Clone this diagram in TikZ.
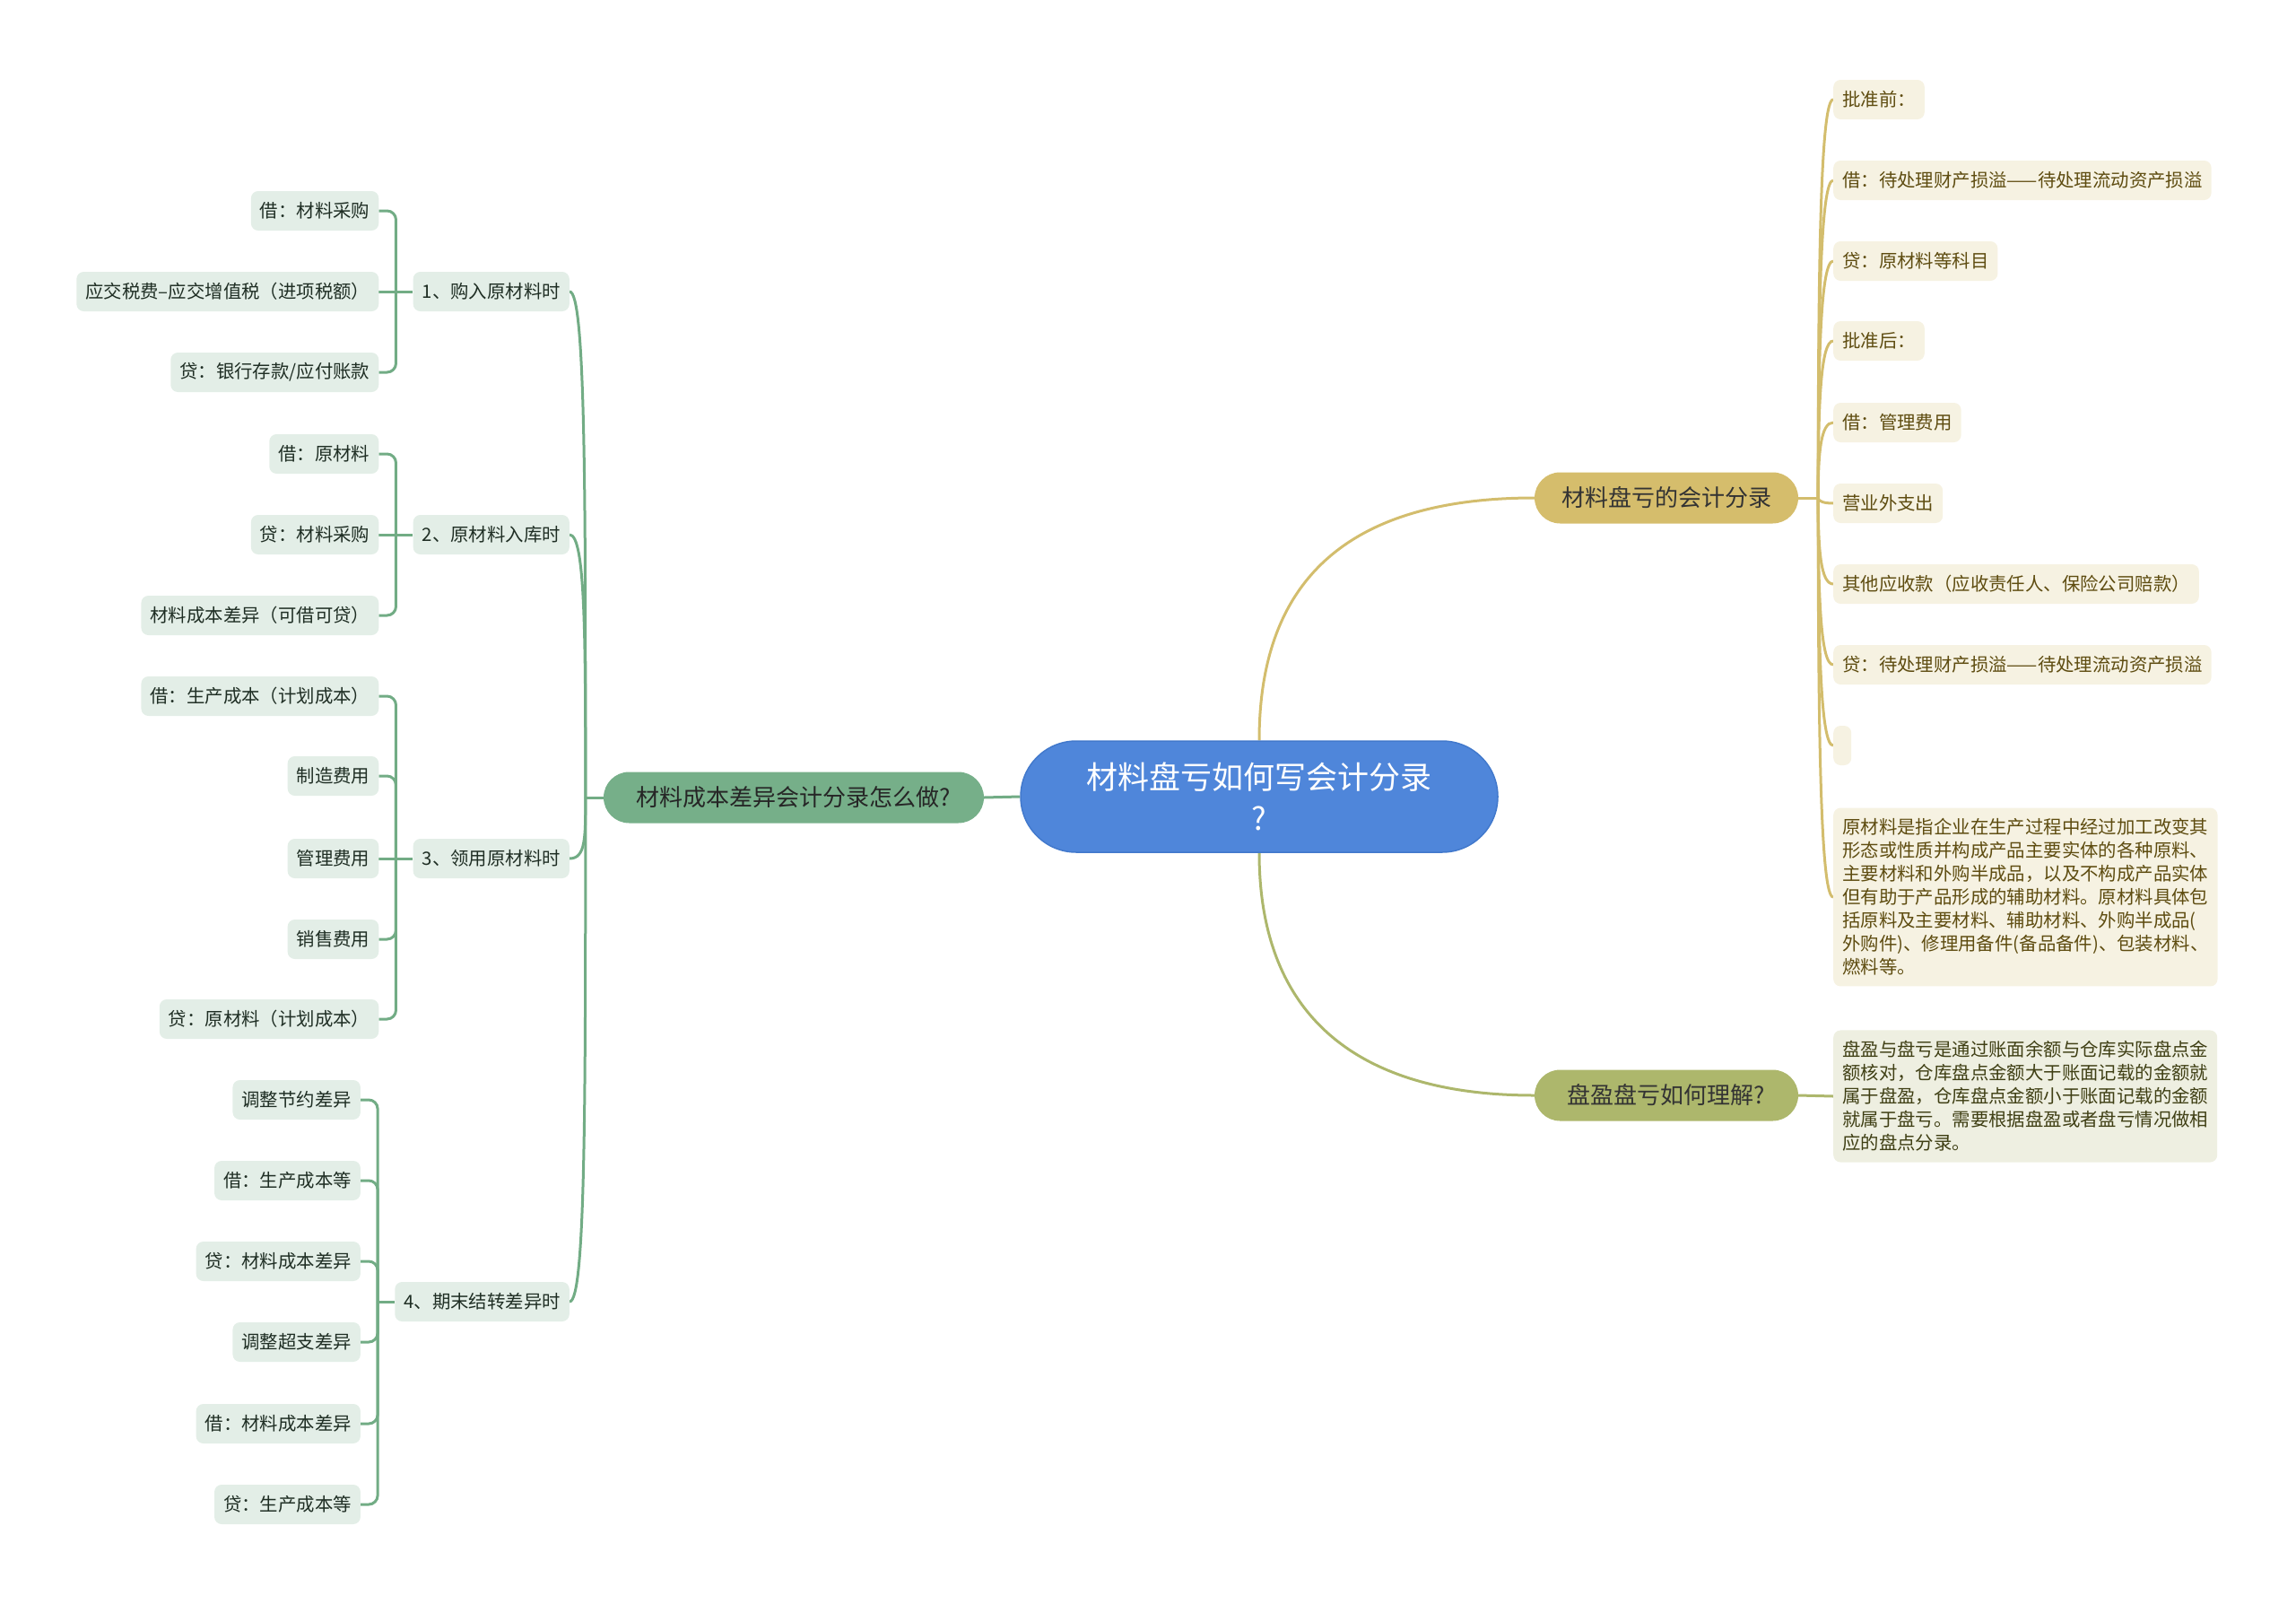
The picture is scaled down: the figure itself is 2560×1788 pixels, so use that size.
\documentclass[tikz,border=0pt]{standalone}
\usepackage{fontspec}
\setmainfont{Noto Sans CJK SC}
\usetikzlibrary{backgrounds}

\definecolor{rootblue}{HTML}{4F86DA}
\definecolor{rootline}{HTML}{4279CC}
\definecolor{topicgreen}{HTML}{76AF89}
\definecolor{linegreen}{HTML}{72AC85}
\definecolor{leafgreen}{HTML}{E3EEE7}
\definecolor{textgreen}{HTML}{1F2E24}
\definecolor{topicgold}{HTML}{D5BD6C}
\definecolor{linegold}{HTML}{D3BD6D}
\definecolor{leafgold}{HTML}{F6F2E2}
\definecolor{textgold}{HTML}{5E4C10}
\definecolor{topicolive}{HTML}{ADB76C}
\definecolor{leafolive}{HTML}{EEEFE1}
\definecolor{textolive}{HTML}{3F3F14}

\begin{document}
\begin{tikzpicture}[x=1pt, y=1pt,
    root/.style = {draw=rootline, line width=1.5pt, fill=rootblue, text=white, rounded corners=62pt,
      minimum width=532pt, minimum height=124pt, align=center, font=\fontsize{35}{46}\selectfont},
    topic/.style = {rounded corners=28.5pt, minimum height=57pt, minimum width=294pt,
      inner xsep=30pt, font=\fontsize{26}{30}\selectfont},
    leaf/.style = {rounded corners=8pt, minimum height=44pt, inner xsep=10pt, inner ysep=0pt,
      font=\fontsize{20.4}{26}\selectfont},
    leafg/.style = {leaf, fill=leafgreen, text=textgreen},
    leafy/.style = {leaf, fill=leafgold, text=textgold},
    note/.style = {leaf, align=left, inner ysep=12pt},
    gline/.style = {draw=linegreen, line width=3pt},
    yline/.style = {draw=linegold, line width=3pt},
    oline/.style = {draw=topicolive, line width=3pt}]
  \useasboundingbox (0,0) rectangle (2560,-1788);

  % centre and main topics
  \node[root] (root) at (1404,-888) {材料盘亏如何写会计分录\\?};
  \node[topic, fill=topicgreen, text=black!85, minimum width=424pt] (g) at (885,-889) {材料成本差异会计分录怎么做?};
  \node[topic, fill=topicgold, text=black!80] (y) at (1858,-555) {材料盘亏的会计分录};
  \node[topic, fill=topicolive, text=black!80] (o) at (1858,-1221) {盘盈盘亏如何理解?};

  % left side, second level
  \node[leafg, anchor=east] (p1) at (635,-325) {1、购入原材料时};
  \node[leafg, anchor=east] (p2) at (635,-596) {2、原材料入库时};
  \node[leafg, anchor=east] (p3) at (635,-957) {3、领用原材料时};
  \node[leafg, anchor=east] (p4) at (635,-1451) {4、期末结转差异时};

  % left side, third level
  \node[leafg, anchor=east] (a11) at ([xshift=-38pt, yshift=90pt]p1.west) {借：材料采购};
  \node[leafg, anchor=east] (a12) at ([xshift=-38pt]p1.west) {应交税费–应交增值税（进项税额）};
  \node[leafg, anchor=east] (a13) at ([xshift=-38pt, yshift=-90pt]p1.west) {贷：银行存款/应付账款};

  \node[leafg, anchor=east] (a21) at ([xshift=-38pt, yshift=90pt]p2.west) {借：原材料};
  \node[leafg, anchor=east] (a22) at ([xshift=-38pt]p2.west) {贷：材料采购};
  \node[leafg, anchor=east] (a23) at ([xshift=-38pt, yshift=-90pt]p2.west) {材料成本差异（可借可贷）};

  \node[leafg, anchor=east] (a31) at ([xshift=-38pt, yshift=181pt]p3.west) {借：生产成本（计划成本）};
  \node[leafg, anchor=east] (a32) at ([xshift=-38pt, yshift=92pt]p3.west) {制造费用};
  \node[leafg, anchor=east] (a33) at ([xshift=-38pt]p3.west) {管理费用};
  \node[leafg, anchor=east] (a34) at ([xshift=-38pt, yshift=-90pt]p3.west) {销售费用};
  \node[leafg, anchor=east] (a35) at ([xshift=-38pt, yshift=-179pt]p3.west) {贷：原材料（计划成本）};

  \node[leafg, anchor=east] (a41) at ([xshift=-38pt, yshift=225pt]p4.west) {调整节约差异};
  \node[leafg, anchor=east] (a42) at ([xshift=-38pt, yshift=135pt]p4.west) {借：生产成本等};
  \node[leafg, anchor=east] (a43) at ([xshift=-38pt, yshift=45pt]p4.west) {贷：材料成本差异};
  \node[leafg, anchor=east] (a44) at ([xshift=-38pt, yshift=-45pt]p4.west) {调整超支差异};
  \node[leafg, anchor=east] (a45) at ([xshift=-38pt, yshift=-136pt]p4.west) {借：材料成本差异};
  \node[leafg, anchor=east] (a46) at ([xshift=-38pt, yshift=-226pt]p4.west) {贷：生产成本等};

  % right side, gold branch
  \node[leafy, anchor=west] (y1) at (2044,-111) {批准前：};
  \node[leafy, anchor=west] (y2) at (2044,-201) {借：待处理财产损溢——待处理流动资产损溢};
  \node[leafy, anchor=west] (y3) at (2044,-291) {贷：原材料等科目};
  \node[leafy, anchor=west] (y4) at (2044,-380) {批准后：};
  \node[leafy, anchor=west] (y5) at (2044,-471) {借：管理费用};
  \node[leafy, anchor=west] (y6) at (2044,-561) {营业外支出};
  \node[leafy, anchor=west] (y7) at (2044,-651) {其他应收款（应收责任人、保险公司赔款）};
  \node[leafy, anchor=west] (y8) at (2044,-741) {贷：待处理财产损溢——待处理流动资产损溢};
  \node[leafy, anchor=west] (y9) at (2044,-831) {};
  \node[note, fill=leafgold, text=textgold, anchor=west] (y10) at (2044,-1000)
    {原材料是指企业在生产过程中经过加工改变其\\形态或性质并构成产品主要实体的各种原料、\\主要材料和外购半成品，以及不构成产品实体\\但有助于产品形成的辅助材料。原材料具体包\\括原料及主要材料、辅助材料、外购半成品(\\外购件)、修理用备件(备品备件)、包装材料、\\燃料等。};

  % right side, olive branch
  \node[note, fill=leafolive, text=textolive, anchor=west] (o1) at (2044,-1222)
    {盘盈与盘亏是通过账面余额与仓库实际盘点金\\额核对，仓库盘点金额大于账面记载的金额就\\属于盘盈，仓库盘点金额小于账面记载的金额\\就属于盘亏。需要根据盘盈或者盘亏情况做相\\应的盘点分录。};

  \coordinate (gj) at ([xshift=-20pt]g.west);
  \coordinate (yj) at ([xshift=22pt]y.east);
  \coordinate (b1) at ([xshift=-19pt]p1.west);
  \coordinate (b2) at ([xshift=-19pt]p2.west);
  \coordinate (b3) at ([xshift=-19pt]p3.west);
  \coordinate (b4) at ([xshift=-19pt]p4.west);

  \begin{scope}[on background layer]
    \draw[gline] (root.west) -- (g.east);
    \draw[yline] (root.north) .. controls +(0,176) and +(-211,0) .. (y.west);
    \draw[oline] (root.south) .. controls +(0,-170) and +(-211,0) .. (o.west);

    \draw[gline] (g.west) -- (gj);
    \draw[gline] (gj) .. controls +(0,340) and +(18,0) .. (p1.east);
    \draw[gline] (gj) .. controls +(0,175) and +(18,0) .. (p2.east);
    \draw[gline] (gj) .. controls +(0,-45) and +(18,0) .. (p3.east);
    \draw[gline] (gj) .. controls +(0,-340) and +(18,0) .. (p4.east);

    \draw[gline] (p1.west) -- (b1) -- (a12.east);
    \draw[gline, rounded corners=10pt] (b1) |- (a11.east);
    \draw[gline, rounded corners=10pt] (b1) |- (a13.east);
    \draw[gline] (p2.west) -- (b2) -- (a22.east);
    \draw[gline, rounded corners=10pt] (b2) |- (a21.east);
    \draw[gline, rounded corners=10pt] (b2) |- (a23.east);
    \draw[gline] (p3.west) -- (b3) -- (a33.east);
    \draw[gline, rounded corners=10pt] (b3) |- (a31.east);
    \draw[gline, rounded corners=10pt] (b3) |- (a32.east);
    \draw[gline, rounded corners=10pt] (b3) |- (a34.east);
    \draw[gline, rounded corners=10pt] (b3) |- (a35.east);
    \draw[gline] (p4.west) -- (b4);
    \draw[gline, rounded corners=10pt] (b4) |- (a41.east);
    \draw[gline, rounded corners=10pt] (b4) |- (a42.east);
    \draw[gline, rounded corners=10pt] (b4) |- (a43.east);
    \draw[gline, rounded corners=10pt] (b4) |- (a44.east);
    \draw[gline, rounded corners=10pt] (b4) |- (a45.east);
    \draw[gline, rounded corners=10pt] (b4) |- (a46.east);

    \draw[yline] (y.east) -- (yj);
    \draw[yline] (yj) .. controls +(0,266) and +(-14,0) .. (y1.west);
    \draw[yline] (yj) .. controls +(0,212) and +(-14,0) .. (y2.west);
    \draw[yline] (yj) .. controls +(0,158) and +(-14,0) .. (y3.west);
    \draw[yline] (yj) .. controls +(0,105) and +(-14,0) .. (y4.west);
    \draw[yline] (yj) .. controls +(0,50) and +(-14,0) .. (y5.west);
    \draw[yline] (yj) .. controls +(0,-4) and +(-10,0) .. (y6.west);
    \draw[yline] (yj) .. controls +(0,-58) and +(-14,0) .. (y7.west);
    \draw[yline] (yj) .. controls +(0,-112) and +(-14,0) .. (y8.west);
    \draw[yline] (yj) .. controls +(0,-166) and +(-14,0) .. (y9.west);
    \draw[yline] (yj) .. controls +(0,-267) and +(-14,0) .. (y10.west);

    \draw[oline] (o.east) -- (o1.west);
  \end{scope}
\end{tikzpicture}
\end{document}
